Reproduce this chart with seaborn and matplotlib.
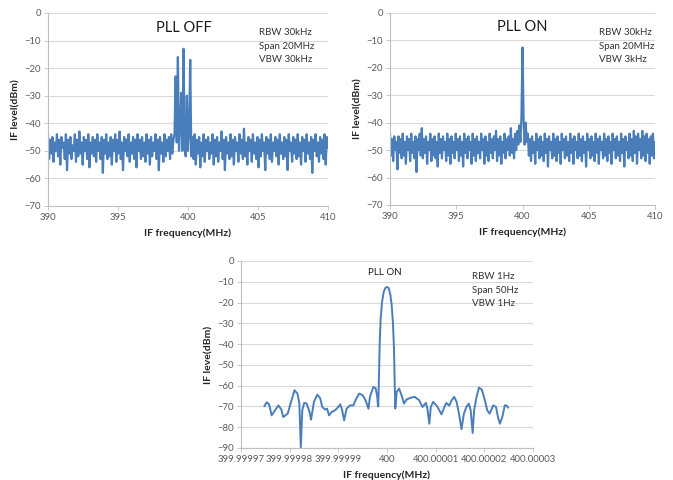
import numpy as np
import pandas as pd
import matplotlib
matplotlib.use("Agg")
import matplotlib.pyplot as plt
import seaborn as sns

# Wide sweeps, 390-410 MHz, 251 points each (dBm)
pll_off_level = [
    -44, -53, -46, -51, -45, -54, -47, -50, -44, -52,
    -46, -55, -45, -49, -47, -53, -44, -57, -46, -51,
    -45, -53, -48, -50, -44, -54, -46, -52, -43, -51,
    -47, -55, -45, -50, -46, -53, -44, -56, -47, -51,
    -45, -52, -46, -54, -44, -50, -47, -53, -45, -58,
    -46, -51, -44, -53, -47, -52, -45, -55, -46, -50,
    -44, -54, -46, -51, -43, -53, -47, -57, -45, -50,
    -46, -52, -44, -54, -47, -51, -45, -53, -46, -56,
    -44, -50, -46, -53, -45, -52, -47, -54, -44, -51,
    -46, -55, -45, -52, -47, -50, -44, -53, -46, -57,
    -45, -51, -47, -54, -44, -52, -46, -50, -45, -53,
    -44, -51, -46,
    -44, -23, -47, -16, -50, -41, -29, -50, -13, -48, -52, -30, -50, -44, -17, -52, -45,
    -53, -44, -55, -46, -51, -45, -56, -47, -52, -44,
    -54, -46, -50, -45, -53, -47, -51, -44, -55, -46,
    -52, -45, -54, -47, -50, -43, -53, -46, -57, -45,
    -51, -47, -53, -44, -52, -46, -55, -45, -50, -47,
    -54, -44, -51, -46, -53, -42, -52, -47, -55, -45,
    -50, -46, -54, -44, -51, -47, -53, -45, -56, -46,
    -52, -44, -50, -47, -57, -45, -51, -46, -53, -44,
    -54, -47, -50, -45, -52, -46, -55, -44, -51, -47,
    -53, -45, -52, -46, -57, -44, -50, -47, -54, -45,
    -51, -46, -53, -44, -52, -47, -55, -45, -50, -46,
    -54, -44, -51, -47, -53, -45, -58, -46, -50, -44,
    -52, -47, -54, -45, -51, -46, -53, -44, -55, -45, -49,
]

pll_on_level = [
    -44, -52, -46, -54, -45, -50, -47, -57, -45, -51,
    -46, -53, -44, -52, -47, -55, -45, -50, -46, -54,
    -44, -51, -47, -53, -45, -58, -46, -50, -44, -52,
    -42, -53, -46, -51, -45, -55, -47, -50, -44, -54,
    -46, -52, -45, -53, -47, -56, -44, -51, -46, -53,
    -45, -50, -47, -54, -44, -52, -46, -55, -45, -51,
    -47, -53, -44, -50, -46, -54, -45, -52, -47, -56,
    -44, -51, -46, -53, -45, -50, -47, -55, -44, -52,
    -46, -54, -45, -51, -47, -53, -44, -50, -46, -55,
    -45, -52, -47, -54, -44, -51, -46, -53, -45, -50,
    -43, -54, -46, -52, -45, -55, -47, -51, -44, -53,
    -46, -50, -45, -52, -42, -51, -46, -53, -44, -50,
    -43, -48, -41, -47, -38, -12.6, -39, -48, -40, -47,
    -44, -52, -46, -54, -45, -51, -47, -55, -44, -50,
    -46, -53, -45, -52, -47, -54, -44, -51, -46, -56,
    -45, -50, -47, -53, -44, -52, -46, -54, -45, -51,
    -47, -55, -44, -50, -46, -53, -45, -52, -47, -54,
    -44, -51, -46, -55, -45, -50, -47, -53, -44, -52,
    -46, -54, -45, -51, -47, -56, -44, -50, -46, -53,
    -45, -52, -47, -54, -44, -51, -46, -55, -45, -50,
    -47, -53, -44, -52, -46, -54, -45, -51, -47, -55,
    -44, -50, -46, -53, -45, -52, -47, -54, -44, -51,
    -46, -56, -45, -50, -47, -53, -44, -52, -46, -54,
    -43, -51, -45, -55, -44, -50, -46, -53, -43, -52,
    -45, -54, -44, -51, -46, -55, -45, -52, -44, -53, -47,
]

# Narrow span around 400 MHz: offset from carrier in Hz, level in dBm
narrow_offset_hz = [
    -25.2, -24.7, -24.2, -23.7, -23.0, -22.3, -21.7, -21.3, -20.4, -19.8,
    -19.0, -18.4, -18.0, -17.7, -17.4, -17.0, -16.5, -15.9, -15.6, -15.0,
    -14.3, -13.7, -13.3, -12.7, -12.3, -11.9, -11.4, -10.7, -10.0, -9.6,
    -9.2, -8.8, -8.3, -7.6, -6.9, -6.4, -5.7, -5.0, -4.4, -3.8,
    -3.5, -2.8, -2.3, -2.0, -1.85,
    -1.78, -1.64, -1.5, -1.3, -1.03, -0.68, -0.34, 0.0, 0.34, 0.68,
    0.96, 1.23, 1.44, 1.57, 1.71,
    2.0, 2.5, 3.1, 3.5, 4.0, 4.9, 5.7, 6.6, 7.3, 8.0,
    8.3, 8.7, 9.0, 9.5, 10.3, 11.2, 11.8, 12.2, 12.8, 13.3,
    13.8, 14.3, 14.8, 15.3, 15.8, 16.3, 16.8, 17.2, 17.6, 17.9,
    18.4, 18.9, 19.5, 20.1, 20.6, 21.1, 21.8, 22.4, 22.8, 23.2,
    23.7, 24.2, 24.5, 24.9,
]
narrow_level = [
    -69.9, -68.0, -69.0, -74.3, -71.9, -69.5, -71.5, -75.1, -73.5, -68.6,
    -62.2, -63.8, -68.6, -90.0, -71.9, -68.3, -68.6, -72.7, -76.4, -67.8,
    -64.3, -66.2, -70.3, -71.5, -71.1, -74.3, -72.7, -71.9, -70.3, -69.0,
    -71.9, -76.7, -71.1, -69.5, -69.5, -66.7, -63.8, -64.6, -67.0, -71.1,
    -65.4, -60.6, -61.4, -65.4, -69.9,
    -70.0, -55.0, -40.0, -28.0, -20.0, -15.0, -13.0, -12.5, -13.0, -16.0,
    -21.0, -30.0, -42.0, -57.0, -71.0,
    -63.0, -61.4, -65.4, -68.6, -66.7, -65.8, -65.4, -67.0, -70.3, -68.3,
    -71.1, -78.3, -70.3, -67.8, -69.9, -73.8, -70.3, -68.3, -69.6, -67.0,
    -65.4, -67.8, -73.5, -81.0, -73.5, -70.3, -68.6, -71.9, -82.8, -71.9,
    -65.4, -60.9, -62.0, -67.0, -71.9, -73.5, -69.5, -70.3, -75.1, -78.3,
    -75.1, -69.5, -69.5, -70.6,
]

sweep_ticks = [390, 395, 400, 405, 410]
narrow_tick_hz = [-30, -20, -10, 0, 10, 20, 30]
narrow_tick_labels = ['399.99997', '399.99998', '399.99999', '400',
                      '400.00001', '400.00002', '400.00003']

line_color = '#4a7ebb'
grid_color = '#d9d9d9'
axis_color = '#bfbfbf'
tick_color = '#595959'

sns.set_theme(style="white")
plt.rcParams['font.family'] = ['Lato', 'DejaVu Sans']

fig = plt.figure(figsize=(6.73, 4.8), dpi=100)
ax1 = fig.add_axes([0.0713, 0.571, 0.416, 0.402])
ax2 = fig.add_axes([0.5795, 0.573, 0.3938, 0.400])
ax3 = fig.add_axes([0.358, 0.0667, 0.434, 0.3896])


def style_axes(ax, ymin, ylabel):
    ax.set_ylim(ymin, 0)
    ax.set_yticks(range(ymin, 1, 10))
    ax.yaxis.grid(True, color=grid_color, linewidth=0.8)
    ax.xaxis.grid(False)
    ax.set_axisbelow(True)
    for side in ['top', 'right']:
        ax.spines[side].set_visible(False)
    for side in ['left', 'bottom']:
        ax.spines[side].set_color(axis_color)
        ax.spines[side].set_linewidth(0.8)
    ax.tick_params(axis='both', labelsize=6.8, labelcolor=tick_color,
                   color=axis_color, length=3, width=0.6, pad=2, direction='out')
    ax.tick_params(axis='both', bottom=True, left=True)
    ax.set_ylabel(ylabel, fontsize=7.5, fontweight='bold', color='#262626', labelpad=3)
    ax.set_xlabel('IF frequency(MHz)', fontsize=7.5, fontweight='bold',
                  color='#262626', labelpad=5)


# top row: wide sweeps
for ax, levels, title, notes, note_x in [
        (ax1, pll_off_level, 'PLL OFF', ['RBW 30kHz', 'Span 20MHz', 'VBW 30kHz'], 405.1),
        (ax2, pll_on_level, 'PLL ON', ['RBW 30kHz', 'Span 20MHz', 'VBW 3kHz'], 405.8)]:
    df = pd.DataFrame({'freq': np.linspace(390, 410, len(levels)), 'level': levels})
    sns.lineplot(data=df, x='freq', y='level', ax=ax, color=line_color,
                 linewidth=1.6, sort=False, estimator=None)
    ax.set_xlim(390, 410)
    ax.set_xticks(sweep_ticks)
    style_axes(ax, -70, 'IF level(dBm)')
    ax.text(399.7 if title == 'PLL OFF' else 400.0, -5.3, title, ha='center',
            va='center', fontsize=10.5, color='#1a1a1a')
    for i, note in enumerate(notes):
        ax.text(note_x, -7.2 - 4.9 * i, note, ha='left', va='center',
                fontsize=7.0, color='#333333')

# bottom: narrow span
df_n = pd.DataFrame({'freq': [400 + h * 1e-6 for h in narrow_offset_hz],
                     'level': narrow_level})
sns.lineplot(data=df_n, x='freq', y='level', ax=ax3, color=line_color,
             linewidth=1.4, sort=False, estimator=None)
ax3.set_xlim(400 - 30e-6, 400 + 30e-6)
ax3.set_xticks([400 + h * 1e-6 for h in narrow_tick_hz])
ax3.set_xticklabels(narrow_tick_labels)
style_axes(ax3, -90, 'IF leve(dBm)')
ax3.text(400 - 0.4e-6, -5.6, 'PLL ON', ha='center', va='center',
         fontsize=7.0, color='#1a1a1a')
for i, note in enumerate(['RBW 1Hz', 'Span 50Hz', 'VBW 1Hz']):
    ax3.text(400 + 17.4e-6, -7.6 - 6.4 * i, note, ha='left', va='center',
             fontsize=7.0, color='#333333')

fig.savefig('out.png', dpi=100)
